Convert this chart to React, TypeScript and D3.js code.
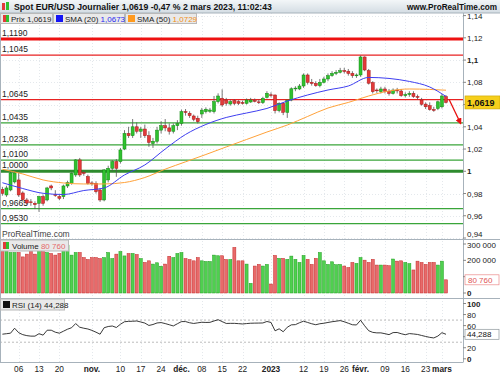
import React from "react";
import * as d3 from "d3";

// ---- data ----
const tickIdx = [4, 9, 14, 22, 29, 34, 39, 44, 49, 54, 59, 66, 74, 79, 84, 88, 94, 99, 104, 108];
const tickLabels = ["06", "13", "20", "nov.", "10", "17", "24", "déc.", "08", "15", "22", "2023", "12", "19", "26", "févr.", "09", "16", "23", "mars"];

const open = [
  0.9838, 0.9787, 0.9832, 0.9904, 0.9922, 0.9805, 0.9742, 0.9725, 0.9712, 0.9712,
  0.9772, 0.9742, 0.9868, 0.979, 0.9772, 0.9772, 0.9868, 0.9892, 0.9967, 1.0102,
  0.9988, 0.9952, 0.9895, 0.9892, 0.9832, 0.9742, 0.9922, 1.0027, 1.0087, 1.0087,
  1.02, 1.034, 1.032, 1.04, 1.036, 1.038, 1.032, 1.025, 1.027, 1.037,
  1.041, 1.039, 1.036, 1.041, 1.0431, 1.0536, 1.0522, 1.0497, 1.0477, 1.0515,
  1.0536, 1.054, 1.0536, 1.0626, 1.0656, 1.0641, 1.0605, 1.0635, 1.0626, 1.0618,
  1.0611, 1.0623, 1.0636, 1.0624, 1.0617, 1.0665, 1.0688, 1.0686, 1.0545, 1.0612,
  1.053, 1.0641, 1.0742, 1.074, 1.0767, 1.0866, 1.08, 1.079, 1.077, 1.08,
  1.083, 1.086, 1.088, 1.089, 1.0905, 1.09, 1.088, 1.086, 1.0866, 1.1028,
  1.0905, 1.0797, 1.0731, 1.0716, 1.074, 1.072, 1.07, 1.073, 1.0722, 1.068,
  1.069, 1.07, 1.0672, 1.0641, 1.0604, 1.059, 1.0555, 1.0565, 1.058, 1.0671,
];
const high = [
  0.986, 0.987, 0.9997, 1.001, 0.999, 0.982, 0.976, 0.975, 0.973, 0.978,
  0.979, 0.986, 0.988, 0.983, 0.979, 0.988, 0.9915, 0.999, 1.011, 1.012,
  1.0005, 0.997, 0.991, 0.991, 0.985, 1.002, 1.005, 1.01, 1.011, 1.021,
  1.037, 1.04, 1.047, 1.044, 1.04, 1.042, 1.036, 1.03, 1.04, 1.045,
  1.047, 1.043, 1.043, 1.046, 1.0555, 1.056, 1.054, 1.051, 1.05, 1.057,
  1.0575, 1.057, 1.0677, 1.0701, 1.0737, 1.066, 1.0645, 1.065, 1.064, 1.0635,
  1.0655, 1.066, 1.0655, 1.0645, 1.067, 1.072, 1.071, 1.069, 1.062, 1.062,
  1.063, 1.0755, 1.0765, 1.0785, 1.088, 1.088, 1.083, 1.081, 1.083, 1.085,
  1.088, 1.09, 1.091, 1.093, 1.093, 1.092, 1.09, 1.088, 1.104, 1.1033,
  1.092, 1.081, 1.0745, 1.076, 1.076, 1.074, 1.0745, 1.075, 1.074, 1.071,
  1.072, 1.072, 1.069, 1.066, 1.062, 1.062, 1.058, 1.0635, 1.0695, 1.0685,
];
const low = [
  0.978, 0.977, 0.982, 0.989, 0.977, 0.973, 0.97, 0.969, 0.966, 0.9635,
  0.969, 0.973, 0.983, 0.977, 0.974, 0.975, 0.985, 0.988, 0.995, 0.995,
  0.996, 0.988, 0.987, 0.98, 0.9725, 0.973, 0.99, 1.0, 0.995, 1.007,
  1.019, 1.03, 1.03, 1.034, 1.03, 1.03, 1.022, 1.021, 1.025, 1.034,
  1.036, 1.033, 1.034, 1.037, 1.041, 1.05, 1.048, 1.045, 1.043, 1.048,
  1.052, 1.0525, 1.052, 1.061, 1.058, 1.059, 1.059, 1.0595, 1.0595, 1.06,
  1.06, 1.0615, 1.062, 1.0605, 1.0605, 1.0655, 1.0665, 1.052, 1.053, 1.0505,
  1.048, 1.063, 1.072, 1.073, 1.075, 1.078, 1.077, 1.076, 1.0755, 1.079,
  1.081, 1.085, 1.0865, 1.088, 1.088, 1.086, 1.084, 1.084, 1.085, 1.09,
  1.078, 1.07, 1.0705, 1.07, 1.07, 1.068, 1.069, 1.07, 1.067, 1.0665,
  1.067, 1.066, 1.0645, 1.059, 1.056, 1.0545, 1.0535, 1.055, 1.0565, 1.061,
];
const close = [
  0.9802, 0.985, 0.9985, 0.9985, 0.9787, 0.9745, 0.9715, 0.9722, 0.97, 0.9772,
  0.9712, 0.985, 0.985, 0.9787, 0.9757, 0.9868, 0.9898, 0.9982, 1.0102, 0.9967,
  0.9985, 0.9892, 0.9892, 0.9817, 0.9742, 1.0012, 1.0027, 1.0087, 1.0027, 1.0192,
  1.034, 1.032, 1.04, 1.036, 1.038, 1.032, 1.026, 1.027, 1.037, 1.041,
  1.039, 1.036, 1.041, 1.043, 1.0536, 1.053, 1.05, 1.0468, 1.0446, 1.055,
  1.0558, 1.0551, 1.0626, 1.0677, 1.0596, 1.0611, 1.0626, 1.0611, 1.0611, 1.0617,
  1.0641, 1.0641, 1.0634, 1.0622, 1.0656, 1.0701, 1.0686, 1.0545, 1.0612, 1.053,
  1.0641, 1.0742, 1.0748, 1.0767, 1.0866, 1.08, 1.079, 1.077, 1.08, 1.083,
  1.086, 1.088, 1.089, 1.0905, 1.09, 1.088, 1.086, 1.0866, 1.1028, 1.0911,
  1.0792, 1.0716, 1.0725, 1.074, 1.072, 1.07, 1.073, 1.0725, 1.068, 1.069,
  1.07, 1.0672, 1.0665, 1.0603, 1.058, 1.0555, 1.055, 1.0625, 1.0677, 1.0619,
];

const volume = [
  258, 258, 248, 248, 248, 221, 238, 258, 238, 258,
  254, 248, 242, 232, 242, 293, 293, 232, 248, 248,
  217, 205, 217, 217, 211, 217, 248, 211, 238, 254,
  227, 242, 242, 236, 211, 187, 197, 177, 185, 164,
  177, 225, 217, 242, 248, 211, 205, 197, 217, 197,
  193, 193, 232, 228, 228, 205, 205, 279, 197, 197,
  177, 59, 165, 175, 165, 175, 55, 230, 212, 212,
  206, 226, 206, 187, 230, 206, 175, 212, 248, 197,
  175, 191, 173, 175, 165, 156, 187, 181, 217, 201,
  187, 206, 171, 171, 171, 167, 208, 195, 197, 187,
  180, 141, 195, 187, 175, 187, 187, 171, 195, 80.76,
].map((v) => v * 1000);

const rsi = [
  44.5, 45.4, 46.3, 55.3, 47.2, 43.7, 41.9, 41.0, 41.0, 45.4,
  42.8, 51.7, 51.7, 48.1, 46.3, 49.9, 53.5, 56.2, 63.7, 57.1,
  55.3, 53.9, 51.4, 48.1, 44.5, 56.2, 58.4, 59.3, 56.6, 62.5,
  67.0, 67.7, 67.9, 68.4, 66.6, 64.6, 60.3, 62.0, 64.8, 65.5,
  63.7, 61.6, 59.4, 63.4, 67.3, 67.3, 65.2, 63.9, 65.0, 66.1,
  65.7, 65.9, 68.4, 70.7, 67.3, 63.9, 64.1, 64.1, 63.6, 63.0,
  63.7, 64.3, 64.5, 64.6, 64.8, 67.5, 65.7, 50.6, 54.2, 48.9,
  57.1, 61.4, 61.8, 65.2, 68.0, 65.7, 63.4, 61.6, 63.4, 64.3,
  65.7, 67.0, 68.0, 69.1, 67.0, 64.3, 61.6, 61.2, 69.7, 59.8,
  50.8, 47.8, 46.9, 46.9, 45.4, 43.7, 47.4, 47.6, 45.3, 43.5,
  45.6, 44.9, 44.0, 42.2, 40.4, 38.8, 37.7, 41.1, 47.2, 44.288,
];

const smaIdx = [0, 5, 10, 15, 20, 25, 30, 35, 40, 45, 50, 55, 60, 65, 70, 75, 80, 85, 90, 95, 100, 105, 109];
const sma20 = [0.9897, 0.9845, 0.9802, 0.9791, 0.9827, 0.985, 0.9967, 1.0057, 1.02, 1.0331, 1.0421, 1.0484, 1.0524, 1.0565, 1.0632, 1.0686, 1.0731, 1.0767, 1.0844, 1.0835, 1.0808, 1.0758, 1.0673];
const sma50 = [1.0018, 0.9976, 0.9922, 0.9895, 0.9886, 0.9886, 0.9899, 0.9944, 1.0019, 1.0085, 1.0151, 1.0219, 1.0286, 1.0353, 1.0416, 1.0493, 1.0569, 1.0619, 1.0677, 1.0722, 1.074, 1.0736, 1.0729];

const levels = [1.119, 1.1045, 1.0645, 1.0435, 1.0238, 1.01, 1.0, 0.9665, 0.953];
const levelLabels = ["1,1190", "1,1045", "1,0645", "1,0435", "1,0238", "1,0100", "1,0000", "0,9665", "0,9530"];

const priceTicks = [0.94, 0.96, 0.98, 1.0, 1.02, 1.04, 1.06, 1.08, 1.1, 1.12, 1.14];
const volTicks = [0, 100000, 200000, 300000];
const rsiTicks = [0, 20, 40, 60, 80, 100];

const lastPrice = 1.0619;
const lastVolume = 80760;
const lastRsi = 44.288;

// ---- layout ----
const AX = 463;
const FONT = "'Liberation Sans', Arial, sans-serif";
const UP = "#2fc12f";
const UP_EDGE = "#118a11";
const DN = "#e23a3a";
const DN_EDGE = "#a81515";

export default function App() {
  const n = close.length;
  const x = d3.scaleLinear().domain([0, n - 1]).range([2.4, 446]);
  const yP = d3.scaleLinear().domain([0.94, 1.14]).range([238, 15.6]);
  const yV = d3.scaleLinear().domain([0, 300000]).range([293, 244]);
  const yR = d3.scaleLinear().domain([0, 100]).range([358.8, 303.5]);

  const fmtP = (v: number) => String(+v.toFixed(2)).replace(".", ",");
  const fmtV = (v: number) => d3.format(",")(v).replace(/,/g, " ");
  const fmtN = (v: number) => String(v).replace(".", ",");

  // tick labels hidden behind the value tags on the axis
  const hidden = (y: number, tagY: number) => Math.abs(y - tagY) < 8;

  const lineSma = (vals: number[]) =>
    d3
      .line<number>()
      .x((_, i) => x(smaIdx[i]))
      .y((d) => yP(d))
      .curve(d3.curveMonotoneX)(vals) || "";

  const rsiPath =
    d3
      .line<number>()
      .x((_, i) => x(i))
      .y((d) => yR(d))(rsi) || "";

  const levelStyle = (v: number) => {
    if (v === 1.119) return { c: "#ee1111", w: 3 };
    if (v > 1.06) return { c: "#e82222", w: 1.3 };
    if (v === 1.0) return { c: "#2e8b2e", w: 3 };
    return { c: "#3aa53a", w: 1.3 };
  };

  return (
    <svg
      width={500}
      height={375}
      style={{ position: "fixed", left: 0, top: 0, background: "#fff" }}
      fontFamily={FONT}
    >
      <defs>
        <linearGradient id="hdr" x1="0" y1="0" x2="0" y2="1">
          <stop offset="0" stopColor="#f3f6f8" />
          <stop offset="1" stopColor="#d3dce3" />
        </linearGradient>
        <clipPath id="pclip">
          <rect x={0} y={13} width={AX} height={226} />
        </clipPath>
        <marker id="arr" viewBox="0 0 10 10" refX="8" refY="5" markerWidth="5" markerHeight="5" orient="auto">
          <path d="M0,0 L10,5 L0,10 z" fill="#e81010" />
        </marker>
      </defs>

      {/* grid */}
      <g stroke="#e4e8ec" strokeDasharray="1,2" strokeWidth={1}>
        {priceTicks.map((t) => (
          <line key={"g" + t} x1={0} x2={AX} y1={Math.round(yP(t)) + 0.5} y2={Math.round(yP(t)) + 0.5} />
        ))}
        {tickIdx.map((t) => (
          <line key={"v" + t} x1={Math.round(x(t)) + 0.5} x2={Math.round(x(t)) + 0.5} y1={13} y2={362} />
        ))}
      </g>

      {/* price panel */}
      <g clipPath="url(#pclip)">
        {levels.map((v, i) => {
          const s = levelStyle(v);
          return (
            <g key={"l" + v}>
              <line x1={0} x2={AX} y1={yP(v)} y2={yP(v)} stroke={s.c} strokeWidth={s.w} />
              <text x={2} y={yP(v) - 3} fontSize={8.5} fill="#222">
                {levelLabels[i]}
              </text>
            </g>
          );
        })}

        {close.map((c, i) => {
          const o = open[i];
          const up = c >= o;
          const top = yP(Math.max(o, c));
          const bot = yP(Math.min(o, c));
          return (
            <g key={"c" + i}>
              <line x1={x(i)} x2={x(i)} y1={yP(high[i])} y2={yP(low[i])} stroke="#555" strokeWidth={0.8} />
              <rect
                x={x(i) - 1.5}
                y={top}
                width={3}
                height={Math.max(bot - top, 0.8)}
                fill={up ? UP : DN}
                stroke={up ? UP_EDGE : DN_EDGE}
                strokeWidth={0.5}
              />
            </g>
          );
        })}

        <path d={lineSma(sma50)} fill="none" stroke="#ffa23a" strokeWidth={1} />
        <path d={lineSma(sma20)} fill="none" stroke="#3f3ff0" strokeWidth={1} />

        <line
          x1={x(n - 1) + 3}
          y1={yP(1.0648)}
          x2={x(n + 2.6)}
          y2={yP(1.043)}
          stroke="#e81010"
          strokeWidth={1.3}
          markerEnd="url(#arr)"
        />

        <text x={2} y={237} fontSize={8.5} fill="#444">
          ProRealTime.com
        </text>
      </g>

      {/* volume panel */}
      <g>
        {volume.map((v, i) => {
          const up = close[i] >= open[i];
          return (
            <rect
              key={"v" + i}
              x={x(i) - 1.5}
              y={yV(v)}
              width={3}
              height={yV(0) - yV(v)}
              fill={up ? "#4fd04f" : "#e86a6a"}
              stroke={up ? "#1e9e1e" : "#c42a2a"}
              strokeWidth={0.5}
            />
          );
        })}
      </g>

      {/* rsi panel */}
      <g>
        {[70, 30].map((t) => (
          <line key={"r" + t} x1={0} x2={AX} y1={yR(t)} y2={yR(t)} stroke="#aaa" strokeDasharray="2,2" strokeWidth={0.8} />
        ))}
        <path d={rsiPath} fill="none" stroke="#222" strokeWidth={0.9} />
      </g>

      {/* panel frames */}
      <g stroke="#a7b2bb" strokeWidth={1}>
        <line x1={0} x2={500} y1={239.5} y2={239.5} />
        <line x1={0} x2={500} y1={298.5} y2={298.5} />
        <line x1={0} x2={AX} y1={362.5} y2={362.5} />
        <line x1={AX + 0.5} x2={AX + 0.5} y1={13} y2={362.5} />
        <line x1={0.5} x2={0.5} y1={13} y2={362.5} />
      </g>

      {/* right axes */}
      <g fontSize={8} fill="#222">
        {priceTicks.map((t) => (
          <g key={"pt" + t}>
            <line x1={AX} x2={AX + 3} y1={yP(t)} y2={yP(t)} stroke="#888" />
            {!hidden(yP(t), yP(lastPrice)) && (
              <text
                x={AX + 4}
                y={Math.min(yP(t) + 3, 236.5)}
                fontWeight={t === 1 || t === 1.1 ? "bold" : "normal"}
              >
                {fmtP(t)}
              </text>
            )}
          </g>
        ))}
        {volTicks.map((t) => (
          <g key={"vt" + t}>
            <line x1={AX} x2={AX + 3} y1={yV(t)} y2={yV(t)} stroke="#888" />
            {!hidden(yV(t), yV(lastVolume)) && (
              <text x={AX + 4} y={Math.max(yV(t) + 3, 248)} fontWeight={t === 0 ? "bold" : "normal"}>
                {fmtV(t)}
              </text>
            )}
          </g>
        ))}
        {rsiTicks.map((t) => (
          <g key={"rt" + t}>
            <line x1={AX} x2={AX + 3} y1={yR(t)} y2={yR(t)} stroke="#888" />
            {!hidden(yR(t), yR(lastRsi)) && (
              <text x={AX + 4} y={yR(t) + 3} fontWeight={t === 0 || t === 100 ? "bold" : "normal"}>
                {t}
              </text>
            )}
          </g>
        ))}
      </g>

      {/* value tags on axis */}
      <rect x={AX + 2} y={yP(lastPrice) - 6.5} width={35} height={13} fill="#f6cf1b" stroke="#c9a200" strokeWidth={0.6} />
      <text x={AX + 4} y={yP(lastPrice) + 3.2} fontSize={9} fontWeight="bold" fill="#111">
        {fmtN(lastPrice)}
      </text>
      <rect x={AX + 2} y={yV(lastVolume) - 5} width={34} height={10} fill="#fff" stroke="#eb8a8a" strokeWidth={0.7} />
      <text x={AX + 5} y={yV(lastVolume) + 3} fontSize={8} fill="#e05555">
        {fmtV(lastVolume)}
      </text>
      <rect x={AX + 2} y={yR(lastRsi) - 5} width={34} height={10} fill="#fff" stroke="#8e969c" strokeWidth={0.7} />
      <text x={AX + 4} y={yR(lastRsi) + 3} fontSize={8} fill="#111">
        {fmtN(lastRsi)}
      </text>

      {/* header */}
      <rect x={0} y={0} width={500} height={13} fill="url(#hdr)" />
      <line x1={0} x2={500} y1={13} y2={13} stroke="#a7b2bb" />
      <rect x={2} y={3} width={3} height={7} fill={DN} />
      <rect x={6} y={2} width={3} height={8} fill={UP} />
      <text x={14} y={9.5} fontSize={8.7} fontWeight="bold" fill="#111">
        Spot EUR/USD Journalier 1,0619 -0,47 % 2 mars 2023, 11:02:43
      </text>
      <text x={497} y={9.5} fontSize={8.2} fontWeight="bold" fill="#111" textAnchor="end">
        www.ProRealTime.com
      </text>

      {/* legends */}
      <g fontSize={8}>
        <rect x={0.5} y={13.5} width={52} height={10} fill="#e9e9e9" stroke="#b9b9b9" />
        <rect x={3} y={15} width={3} height={7} fill={DN} />
        <rect x={6} y={15} width={3} height={7} fill={UP} />
        <text x={11} y={21.5} fill="#222">Prix 1,0619</text>

        <rect x={53.5} y={13.5} width={71} height={10} fill="#e9e9e9" stroke="#b9b9b9" />
        <rect x={56} y={15} width={7} height={7} fill="#1515f5" />
        <text x={65} y={21.5} fill="#222">
          SMA (20) <tspan fill="#2a2af0">1,0673</tspan>
        </text>

        <rect x={125.5} y={13.5} width={71} height={10} fill="#e9e9e9" stroke="#b9b9b9" />
        <rect x={128} y={15} width={7} height={7} fill="#ff9a1e" />
        <text x={137} y={21.5} fill="#222">
          SMA (50) <tspan fill="#f09018">1,0729</tspan>
        </text>

        <rect x={0.5} y={240} width={68} height={11} fill="#e9e9e9" stroke="#b9b9b9" />
        <rect x={3} y={242} width={3} height={7} fill={DN} />
        <rect x={6} y={242} width={3} height={7} fill={UP} />
        <text x={12} y={248.5} fill="#222">
          Volume <tspan fill="#e46a6a">80 760</tspan>
        </text>

        <rect x={0.5} y={299} width={64} height={11} fill="#e9e9e9" stroke="#b9b9b9" />
        <rect x={3} y={301} width={7} height={7} fill="#111" />
        <text x={12} y={307.5} fill="#222">RSI (14) 44,288</text>
      </g>

      {/* date axis */}
      <g fontSize={8.3} fill="#222">
        {tickIdx.map((t, i) => (
          <text
            key={"d" + t}
            x={x(t)}
            y={372}
            textAnchor="middle"
            fontWeight={/^\d\d$/.test(tickLabels[i]) ? "normal" : "bold"}
          >
            {tickLabels[i]}
          </text>
        ))}
      </g>
    </svg>
  );
}
